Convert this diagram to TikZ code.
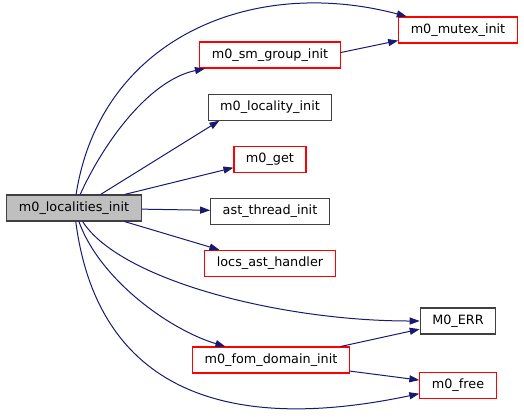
\documentclass[tikz,border=0pt]{standalone}
\usepackage{fontspec}
\setsansfont{DejaVu Sans}
\usepackage{xcolor}
\definecolor{edgeBlue}{HTML}{191970}
\definecolor{docRed}{HTML}{FF0000}
\definecolor{plainGray}{HTML}{404040}
\definecolor{rootFill}{HTML}{BFBFBF}
\usepackage{tikz}
\usetikzlibrary{
    arrows.meta,
    positioning
}
\tikzset{
    % Base style for all function boxes
    func base/.style={
        font=\sffamily\fontsize{12.8}{15}\selectfont,
        rectangle,
        fill=white,
        text=black,
        inner xsep=12pt,
        inner ysep=0pt,
        minimum height=26pt,
        line width=1.1pt,
    },
    % Documented functions - red frame
    func red/.style={
        func base,
        draw=docRed,
    },
    % Functions without docs - dark frame
    func plain/.style={
        func base,
        draw=plainGray,
    },
    % The function the graph is drawn for
    func root/.style={
        func base,
        draw=plainGray,
        fill=rootFill,
    },
    % Call arrow
    call arrow/.style={
        -{Triangle[length=10pt, width=7pt]},
        line width=1pt,
        draw=edgeBlue,
    },
}

\begin{document}
\begin{tikzpicture}[x=1pt, y=-1pt, node distance=25pt]
    \useasboundingbox (0,0) rectangle (524,416);

    \node (root) [func root] at (74,208) {m0\_localities\_init};

    \node (sm) [func red] at (270,55) {m0\_sm\_group\_init};
    \node (locality) [func plain, below=of sm] {m0\_locality\_init};
    \node (get) [func red, below=of locality] {m0\_get};
    \node (ast) [func plain, below=of get] {ast\_thread\_init};
    \node (locs) [func red, below=of ast] {locs\_ast\_handler};
    \node (fom) [func red] at (271,360) {m0\_fom\_domain\_init};

    \node (mutex) [func red] at (458,30) {m0\_mutex\_init};
    \node (err) [func plain] at (458,321) {M0\_ERR};
    \node (free) [func red] at (458,385.5) {m0\_free};

    \draw [call arrow] (root) .. controls (100,40) and (250,-25) .. (mutex);
    \draw [call arrow] (root) .. controls (105,140) and (150,80) .. (sm);
    \draw [call arrow] (root.27) -- (locality.195);
    \draw [call arrow] (root.15) -- (get.193);
    \draw [call arrow] (root) -- (ast);
    \draw [call arrow] (root.-15) -- (locs.165);
    \draw [call arrow] (root) .. controls (120,280) and (280,321) .. (err);
    \draw [call arrow] (root) .. controls (100,280) and (170,330) .. (fom);
    \draw [call arrow] (root) .. controls (95,370) and (200,440) .. (free);
    \draw [call arrow] (sm.2) -- (mutex.190);
    \draw [call arrow] (fom.11) -- (err.192);
    \draw [call arrow] (fom.-8) -- (free.172);
\end{tikzpicture}
\end{document}
